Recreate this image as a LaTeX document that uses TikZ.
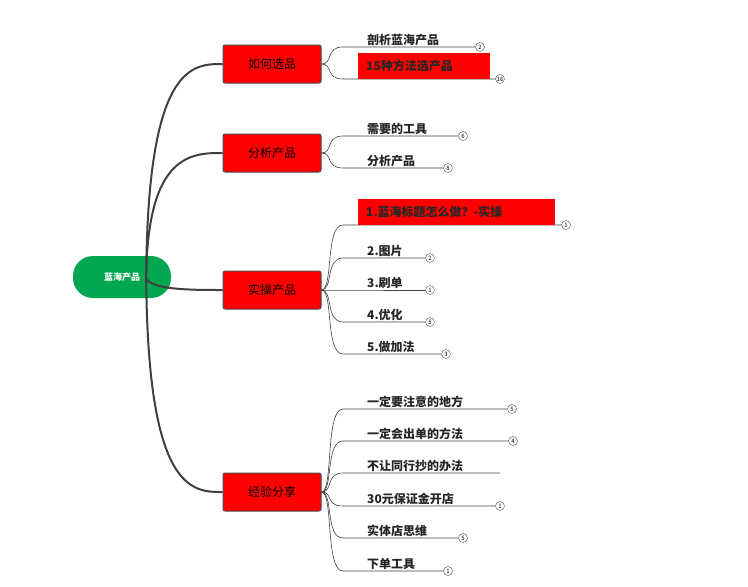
\documentclass[tikz,border=0pt]{standalone}
\usepackage{fontspec}
\setmainfont{Noto Sans CJK SC}
\usetikzlibrary{positioning,calc}

\begin{document}
\begin{tikzpicture}[x=1pt,y=-1pt]
	\tikzset{
		root/.style = {fill=rootgreen, text=white, rounded corners=20pt, minimum width=98pt, minimum height=42pt, font={\bfseries\small}},
		topic/.style = {draw=black!70, line width=1pt, fill=red, rounded corners=2pt, minimum width=98pt, minimum height=38pt, font={\large}},
		leaf/.style = {anchor=south west, inner sep=1pt, font={\bfseries\large}, text=black!85},
		hot/.style = {leaf, fill=red, inner xsep=8pt, inner ysep=3pt, minimum height=26pt},
		hotshort/.style = {hot, text width=116pt},
		hotlong/.style = {hot, text width=181pt},
		num/.style = {draw=black!70, circle, fill=white, inner sep=0pt, minimum size=9pt, font={\fontsize{6}{6}\selectfont}},
		trunk/.style = {draw=black!75, line width=2pt},
		twig/.style = {draw=black!75, line width=0.6pt},
	}
	\definecolor{rootgreen}{HTML}{00A650}
	\useasboundingbox (0,0) rectangle (748,587);

	\node[root] (root) at (122,277) {蓝海产品};
	\node[topic] (t1) at (272,64) {如何选品};
	\node[topic] (t2) at (272,153) {分析产品};
	\node[topic] (t3) at (272,290) {实操产品};
	\node[topic] (t4) at (272,492) {经验分享};

	\foreach \t in {t1,t2,t3,t4}
		{
			\draw[trunk] ($(root.east)+(-25,0)$) .. controls ($(\t.west)+(-75,0)$) and ($(\t.west)+(-30,0)$) .. (\t.west);
		}

	% leaves: topic / y of underline / text / end x / number / look / x of text
	\foreach \t/\y/\txt/\e/\n/\s/\x [count=\i] in {
			t1/47/剖析蓝海产品/475/2/leaf/366,
			t1/79/15种方法选产品/495/16/hotshort/358,
			t2/136/需要的工具/458/6/leaf/366,
			t2/168/分析产品/443/8/leaf/366,
			t3/225/1.蓝海标题怎么做？-实操/561/1/hotlong/358,
			t3/258/2.图片/425/2/leaf/366,
			t3/290/3.刷单/425/1/leaf/366,
			t3/322/4.优化/425/5/leaf/366,
			t3/354/5.做加法/441/3/leaf/366,
			t4/409/一定要注意的地方/507/5/leaf/366,
			t4/441/一定会出单的方法/508/4/leaf/366,
			t4/473/不让同行抄的办法/500/{}/leaf/366,
			t4/506/30元保证金开店/495/1/leaf/366,
			t4/538/实体店思维/458/5/leaf/366,
			t4/571/下单工具/443/1/leaf/366}
		{
			\coordinate (b\i) at (343,\y);
			\coordinate (e\i) at (\e,\y);
			\draw[twig] (\t.east) .. controls +(12,0) and ($(b\i)+(-18,0)$) .. (b\i) -- (e\i);
			\node[\s] (l\i) at (\x,\y) {\txt};
			\ifx\n\empty\else
				\node[num] (n\i) at ($(e\i)+(5,0)$) {\n};
			\fi
		}
\end{tikzpicture}
\end{document}
